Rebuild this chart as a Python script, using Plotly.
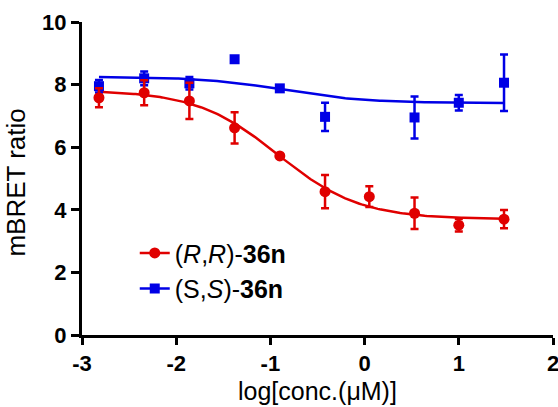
import numpy as np
import plotly.graph_objects as go

# log concentration (µM)
x_rr = [-2.82, -2.34, -1.86, -1.38, -0.90, -0.42, 0.05, 0.53, 1.00, 1.48]
y_rr = [7.58, 7.74, 7.48, 6.62, 5.72, 4.58, 4.42, 3.89, 3.51, 3.70]
e_rr = [0.30, 0.40, 0.58, 0.50, 0.0, 0.53, 0.33, 0.50, 0.20, 0.29]

x_ss = [-2.82, -2.34, -1.86, -1.38, -0.90, -0.42, 0.53, 1.00, 1.48]
y_ss = [7.95, 8.20, 8.04, 8.81, 7.88, 6.97, 6.95, 7.42, 8.06]
e_ss = [0.20, 0.22, 0.20, 0.0, 0.0, 0.45, 0.67, 0.25, 0.90]

# four-parameter fit parameters: top, bottom, logIC50, hill
fit_rr = dict(top=7.82, bottom=3.70, logic50=-0.92, hill=1.0)
fit_ss = dict(top=8.25, bottom=7.41, logic50=-0.85, hill=1.0)

x_ticks = [-3, -2, -1, 0, 1, 2]
y_ticks = [0, 2, 4, 6, 8, 10]
x_title = "log[conc.(μM)]"
y_title = "mBRET ratio"

RED = "#e00000"
BLUE = "#0000e6"
FONT = "Liberation Sans, Arial, sans-serif"


def four_pl(x, p):
    x = np.asarray(x)
    return p["bottom"] + (p["top"] - p["bottom"]) / (1 + 10 ** ((x - p["logic50"]) * p["hill"]))


xc = np.linspace(min(x_rr), max(x_rr), 200)

fig = go.Figure()
fig.add_trace(go.Scatter(x=xc, y=four_pl(xc, fit_ss), mode="lines",
                         line=dict(color=BLUE, width=2.5), showlegend=False, hoverinfo="skip"))
fig.add_trace(go.Scatter(x=xc, y=four_pl(xc, fit_rr), mode="lines",
                         line=dict(color=RED, width=2.5), showlegend=False, hoverinfo="skip"))
fig.add_trace(go.Scatter(x=x_ss, y=y_ss, mode="markers",
                         marker=dict(symbol="square", size=10, color=BLUE),
                         error_y=dict(type="data", array=e_ss, color=BLUE, thickness=2.5, width=4),
                         showlegend=False))
fig.add_trace(go.Scatter(x=x_rr, y=y_rr, mode="markers",
                         marker=dict(symbol="circle", size=11, color=RED),
                         error_y=dict(type="data", array=e_rr, color=RED, thickness=2.5, width=4),
                         showlegend=False))
# legend entries
fig.add_trace(go.Scatter(x=[None], y=[None], mode="lines+markers", legendgroup="rr",
                         name="(<i>R</i>,<i>R</i>)-<b>36n</b>",
                         line=dict(color=RED, width=2.5),
                         marker=dict(symbol="circle", size=11, color=RED)))
fig.add_trace(go.Scatter(x=[None], y=[None], mode="lines+markers", legendgroup="ss",
                         name="(S,<i>S</i>)-<b>36n</b>",
                         line=dict(color=BLUE, width=2.5),
                         marker=dict(symbol="square", size=10, color=BLUE)))

fig.update_layout(
    width=558, height=407,
    margin=dict(l=82, r=5, t=22, b=72, autoexpand=False),
    plot_bgcolor="white", paper_bgcolor="white",
    font=dict(family=FONT, color="black"),
    showlegend=True,
    legend=dict(x=0.112, y=0.335, xanchor="left", yanchor="top",
                font=dict(size=25, family=FONT),
                bgcolor="rgba(0,0,0,0)", tracegroupgap=0, traceorder="grouped"),
    xaxis=dict(range=[-3, 2], tickvals=x_ticks, ticktext=[str(v) for v in x_ticks],
               showline=True, linecolor="black", linewidth=3, mirror=False,
               ticks="outside", ticklen=7, tickwidth=3, tickcolor="black",
               showgrid=False, zeroline=False, automargin=False,
               ticklabeloverflow="allow",
               tickfont=dict(size=22, family=FONT, weight="bold")),
    yaxis=dict(range=[0, 10], tickvals=y_ticks, ticktext=[str(v) for v in y_ticks],
               showline=True, linecolor="black", linewidth=3, mirror=False,
               ticks="outside", ticklen=8, tickwidth=3, tickcolor="black",
               showgrid=False, zeroline=False, automargin=False,
               tickfont=dict(size=22, family=FONT, weight="bold")),
    annotations=[
        dict(text=x_title, xref="paper", yref="paper", x=0.5, y=0,
             xanchor="center", yanchor="middle", yshift=-56, showarrow=False,
             font=dict(size=25, family=FONT, color="black")),
        dict(text=y_title, xref="paper", yref="paper", x=0, y=0.487, textangle=-90,
             xanchor="center", yanchor="middle", xshift=-66, showarrow=False,
             font=dict(size=26, family=FONT, color="black")),
    ],
)

# remove the default page margin so the figure fills the window exactly
fig.write_html("out.html", config={"displayModeBar": False},
               post_script="document.body.style.margin='0';")
